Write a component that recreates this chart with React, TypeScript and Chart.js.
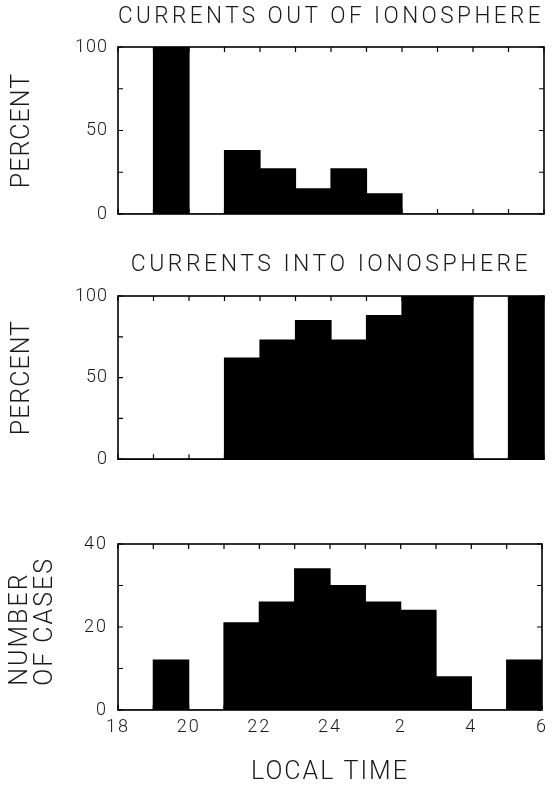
import React, { useEffect, useRef } from "react";
import { Chart, registerables } from "chart.js";

Chart.register(...registerables);

// ---- data ----
const binStartHours = [18, 19, 20, 21, 22, 23, 24, 25, 26, 27, 28, 29];
const outOfIonospherePercent = [0, 100, 0, 38, 27, 15, 27, 12, 0, 0, 0, 0];
const intoIonospherePercent = [0, 0, 0, 62, 73, 85, 73, 88, 100, 100, 0, 100];
const numberOfCases = [0, 12, 0, 21, 26, 34, 30, 26, 24, 8, 0, 12];

const timeAxisMin = 18;
const timeAxisMax = 30;
const localTimeTickLabels = ["18", "20", "22", "24", "2", "4", "6"];
const percentTickLabels = [0, 50, 100];
const casesTickLabels = [0, 20, 40];

const titleOut = "CURRENTS OUT OF IONOSPHERE";
const titleInto = "CURRENTS INTO IONOSPHERE";
const percentLabel = "PERCENT";
const casesLabel = ["   NUMBER", "   OF CASES"];
const timeLabel = "LOCAL TIME";

// ---- styling ----
const FONT = "Roboto, 'DejaVu Sans', sans-serif";
const INK = "#1a1a1a";
const PAGE_W = 554;

const framePlugin = {
  id: "frameAndTicks",
  beforeDraw(chart: any, _args: any, opts: any) {
    (chart.ctx as any).letterSpacing = opts.titleSpacing;
  },
  afterDatasetsDraw(chart: any, _args: any, opts: any) {
    const { ctx, chartArea: a, scales } = chart;
    ctx.save();
    (ctx as any).letterSpacing = "0px";
    ctx.strokeStyle = "#000";
    ctx.lineWidth = 1.6;
    ctx.strokeRect(a.left, a.top, a.right - a.left, a.bottom - a.top);
    ctx.lineWidth = 1.2;
    ctx.beginPath();
    for (const t of scales.x.ticks) {
      const px = scales.x.getPixelForValue(t.value);
      ctx.moveTo(px, a.bottom);
      ctx.lineTo(px, a.bottom - 5);
      ctx.moveTo(px, a.top);
      ctx.lineTo(px, a.top + 5);
    }
    for (const t of scales.y.ticks) {
      const py = scales.y.getPixelForValue(t.value);
      ctx.moveTo(a.left, py);
      ctx.lineTo(a.left + 5, py);
      ctx.moveTo(a.right, py);
      ctx.lineTo(a.right - 5, py);
    }
    ctx.stroke();
    ctx.restore();
    (ctx as any).letterSpacing = opts.axisSpacing;
  },
};

type PanelSpec = {
  values: number[];
  title?: string;
  titlePadTop: number;
  titlePadBottom: number;
  titleSpacing: string;
  axisSpacing: string;
  topPad: number;
  xHeight: number;
  showX: boolean;
  yMax: number;
  yStep: number;
  yLabels: number[];
  yTitle: string | string[];
  yTitleSize: number;
  yTitleLineHeight: number;
  yTitlePad: number;
  yTitleAlign: "center" | "start";
};

function makeConfig(p: PanelSpec): any {
  return {
    type: "bar",
    data: {
      datasets: [
        {
          data: binStartHours.map((h, i) => ({ x: h + 0.5, y: p.values[i] })),
          backgroundColor: "#000",
          borderWidth: 0,
          inflateAmount: 0.6,
          barPercentage: 1,
          categoryPercentage: 1,
        },
      ],
    },
    options: {
      animation: false,
      responsive: false,
      events: [],
      layout: { padding: { left: 0, right: 10, top: p.topPad, bottom: 0 } },
      plugins: {
        legend: { display: false },
        tooltip: { enabled: false },
        frameAndTicks: { titleSpacing: p.titleSpacing, axisSpacing: p.axisSpacing },
        title: p.title
          ? {
              display: true,
              text: p.title,
              fullSize: false,
              color: INK,
              font: { family: FONT, size: 23, weight: "300", lineHeight: 1 },
              padding: { top: p.titlePadTop, bottom: p.titlePadBottom },
            }
          : { display: false },
      },
      scales: {
        x: {
          type: "linear",
          min: timeAxisMin,
          max: timeAxisMax,
          offset: false,
          grid: { display: false, drawTicks: false, z: 1 },
          border: { display: false, z: 1 },
          ticks: {
            display: p.showX,
            stepSize: 1,
            autoSkip: false,
            maxRotation: 0,
            padding: 7,
            color: INK,
            z: 1,
            font: { family: FONT, size: 18, weight: "300" },
            callback: (v: number) =>
              (v - timeAxisMin) % 2 === 0 ? localTimeTickLabels[(v - timeAxisMin) / 2] : "",
          },
          title: p.showX
            ? {
                display: true,
                text: timeLabel,
                color: INK,
                font: { family: FONT, size: 25, weight: "300", lineHeight: 1.2 },
                padding: { top: 0, bottom: 1 },
              }
            : { display: false },
          afterFit: (s: any) => {
            s.height = p.xHeight;
          },
        },
        y: {
          min: 0,
          max: p.yMax,
          grid: { display: false, drawTicks: false, z: 1 },
          border: { display: false, z: 1 },
          ticks: {
            stepSize: p.yStep,
            autoSkip: false,
            padding: 10,
            color: INK,
            z: 1,
            font: { family: FONT, size: 18, weight: "300" },
            callback: (v: number) => (p.yLabels.includes(v) ? String(v) : ""),
          },
          title: {
            display: true,
            text: p.yTitle,
            align: p.yTitleAlign,
            color: INK,
            font: { family: FONT, size: p.yTitleSize, weight: "300", lineHeight: p.yTitleLineHeight },
            padding: { top: p.yTitlePad, bottom: 0 },
          },
          afterFit: (s: any) => {
            s.width = 118;
          },
        },
      },
    },
    plugins: [framePlugin],
  };
}

const panels: { top: number; height: number; spec: PanelSpec }[] = [
  {
    top: 0,
    height: 240,
    spec: {
      values: outOfIonospherePercent,
      title: titleOut,
      titlePadTop: 5.5,
      titlePadBottom: 18.5,
      titleSpacing: "3.5px",
      axisSpacing: "1px",
      topPad: 0,
      xHeight: 26,
      showX: false,
      yMax: 100,
      yStep: 25,
      yLabels: percentTickLabels,
      yTitle: percentLabel,
      yTitleSize: 25,
      yTitleLineHeight: 1.2,
      yTitlePad: 8,
      yTitleAlign: "center",
    },
  },
  {
    top: 240,
    height: 240,
    spec: {
      values: intoIonospherePercent,
      title: titleInto,
      titlePadTop: 14,
      titlePadBottom: 19,
      titleSpacing: "3.5px",
      axisSpacing: "1px",
      topPad: 0,
      xHeight: 17,
      showX: false,
      yMax: 100,
      yStep: 25,
      yLabels: percentTickLabels,
      yTitle: percentLabel,
      yTitleSize: 25,
      yTitleLineHeight: 1.2,
      yTitlePad: 8,
      yTitleAlign: "center",
    },
  },
  {
    top: 480,
    height: 309,
    spec: {
      values: numberOfCases,
      titlePadTop: 0,
      titlePadBottom: 0,
      titleSpacing: "2px",
      axisSpacing: "2px",
      topPad: 64,
      xHeight: 79,
      showX: true,
      yMax: 40,
      yStep: 10,
      yLabels: casesTickLabels,
      yTitle: casesLabel,
      yTitleSize: 25,
      yTitleLineHeight: 1.0,
      yTitlePad: 8.5,
      yTitleAlign: "start",
    },
  },
];

function Panel({ top, height, spec }: { top: number; height: number; spec: PanelSpec }) {
  const ref = useRef<HTMLCanvasElement | null>(null);
  useEffect(() => {
    if (!ref.current) return;
    const chart = new Chart(ref.current, makeConfig(spec));
    return () => chart.destroy();
  }, []);
  return (
    <canvas
      ref={ref}
      width={PAGE_W}
      height={height}
      style={{ position: "absolute", left: 0, top, width: PAGE_W, height, display: "block" }}
    />
  );
}

export default function App() {
  return (
    <div style={{ position: "absolute", left: 0, top: 0, width: PAGE_W, height: 789, background: "#fff" }}>
      {panels.map((p, i) => (
        <Panel key={i} top={p.top} height={p.height} spec={p.spec} />
      ))}
    </div>
  );
}
